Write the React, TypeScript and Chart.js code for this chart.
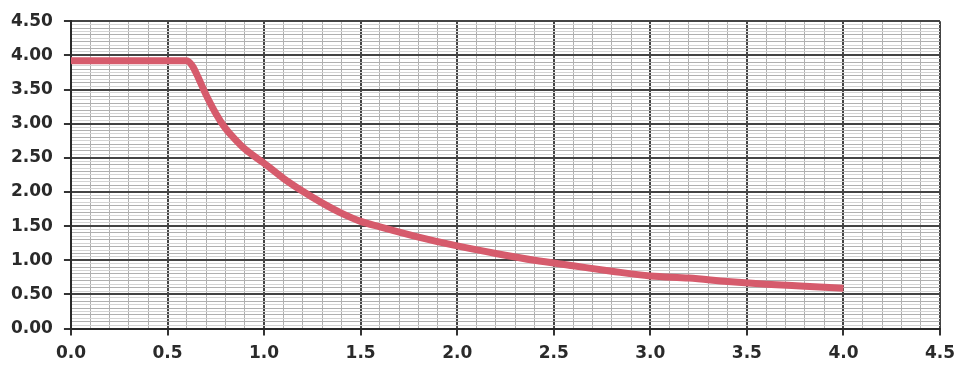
import React, { useEffect, useRef } from "react";
import { Chart, registerables } from "chart.js";

Chart.register(...registerables);

const xValues = [0, 0.3, 0.6, 0.63, 0.65, 0.7, 0.75, 0.8, 0.85, 0.9, 1.0, 1.1, 1.2, 1.3, 1.4, 1.5, 1.6, 1.8, 2.0, 2.2, 2.4, 2.6, 2.8, 3.0, 3.2, 3.4, 3.6, 3.8, 4.0];
const yValues = [3.92, 3.92, 3.92, 3.84, 3.73, 3.42, 3.15, 2.93, 2.77, 2.63, 2.42, 2.2, 2.01, 1.84, 1.69, 1.57, 1.49, 1.34, 1.21, 1.1, 1.0, 0.92, 0.84, 0.77, 0.74, 0.69, 0.65, 0.62, 0.59];

const xMin = 0;
const xMax = 4.5;
const yMin = 0;
const yMax = 4.5;

const isMult = (v: number, step: number) => Math.abs(v / step - Math.round(v / step)) < 1e-6;

export default function App() {
  const ref = useRef<HTMLCanvasElement | null>(null);
  useEffect(() => {
    document.body.style.margin = "0";
    if (!ref.current) return;
    const font = { family: "'DejaVu Sans', sans-serif", size: 17, weight: "bold" as const };
    const chart = new Chart(ref.current, {
      type: "line",
      data: {
        datasets: [
          {
            data: xValues.map((x, i) => ({ x, y: yValues[i] })),
            borderColor: "#d65b6c",
            borderWidth: 7,
            pointRadius: 0,
            cubicInterpolationMode: "monotone",
            fill: false,
          },
        ],
      },
      options: {
        animation: false,
        responsive: false,
        maintainAspectRatio: false,
        layout: { padding: { top: 19, right: 18, left: 0, bottom: -7 } },
        plugins: { legend: { display: false }, tooltip: { enabled: false } },
        scales: {
          x: {
            type: "linear",
            min: xMin,
            max: xMax,
            afterFit: (s: any) => {
              s.paddingRight = 0;
            },
            ticks: {
              stepSize: 0.1,
              autoSkip: false,
              maxRotation: 0,
              padding: 8,
              color: "#2a2a2a",
              font,
              callback: (v: any) => (isMult(Number(v), 0.5) ? Number(v).toFixed(1) : ""),
            },
            grid: {
              color: (ctx: any) => (isMult(ctx.tick.value, 0.5) ? "#444" : "#b0b0b0"),
              lineWidth: (ctx: any) => (isMult(ctx.tick.value, 0.5) ? 2 : 1),
              tickColor: (ctx: any) => (isMult(ctx.tick.value, 0.5) ? "#333" : "rgba(0,0,0,0)"),
              tickLength: 7,
            },
            border: { color: "#2a2a2a", width: 2 },
          },
          y: {
            type: "linear",
            min: yMin,
            max: yMax,
            ticks: {
              stepSize: 0.05,
              autoSkip: false,
              padding: 11,
              color: "#2a2a2a",
              font,
              callback: (v: any) => (isMult(Number(v), 0.5) ? Number(v).toFixed(2) : ""),
            },
            grid: {
              color: (ctx: any) =>
                isMult(ctx.tick.value, 0.5) ? "#444" : isMult(ctx.tick.value, 0.1) ? "#b0b0b0" : "#d4d4d4",
              lineWidth: (ctx: any) => (isMult(ctx.tick.value, 0.5) ? 2 : 1),
              tickColor: (ctx: any) => (isMult(ctx.tick.value, 0.5) ? "#333" : "rgba(0,0,0,0)"),
              tickLength: 7,
            },
            border: { color: "#2a2a2a", width: 2 },
          },
        },
      },
    });
    return () => chart.destroy();
  }, []);
  return (
    <div style={{ width: 958, height: 365, background: "#fff" }}>
      <canvas ref={ref} width={958} height={365} style={{ display: "block" }} />
    </div>
  );
}
